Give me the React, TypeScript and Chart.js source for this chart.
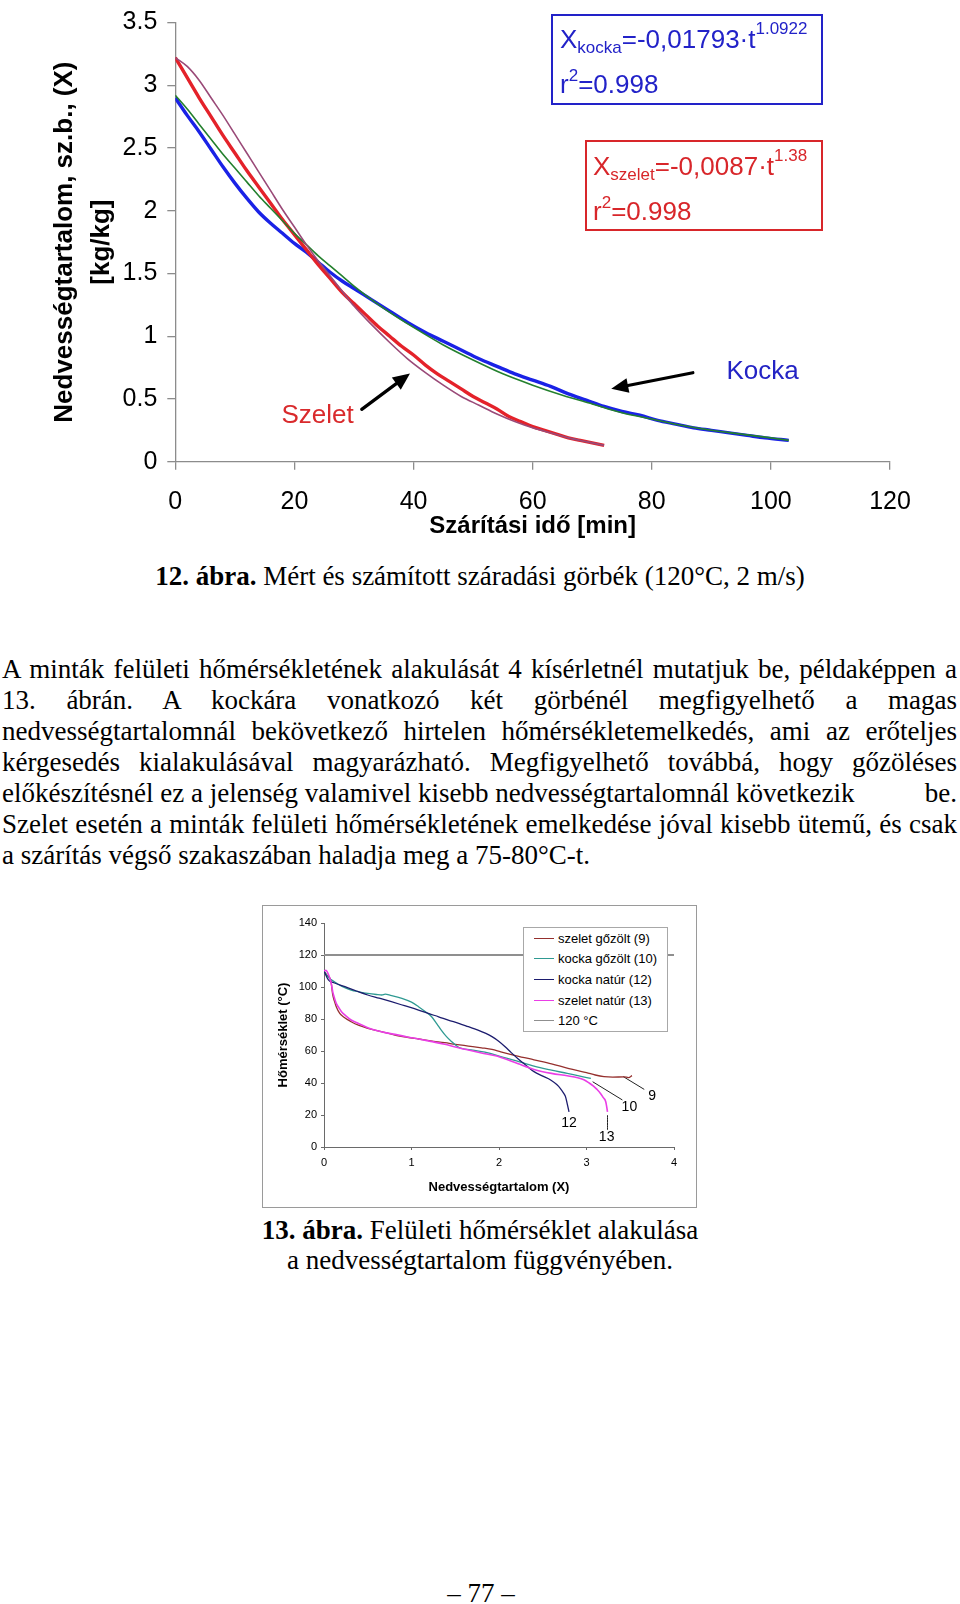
import React, { useEffect, useRef } from 'react';
import { Chart, registerables } from 'chart.js';

Chart.register(...registerables);

const SANS = '"Liberation Sans", Arial, sans-serif';
const SERIF = '"Liberation Serif", "Times New Roman", serif';

// ---------------- 12. ábra: drying curves ----------------
const fig12XTicks = ['0', '20', '40', '60', '80', '100', '120'];
const fig12YTicks = ['0', '0.5', '1', '1.5', '2', '2.5', '3', '3.5'];

const szeletMertT = [0, 2, 4, 6, 8, 10, 12, 14, 16, 18, 20, 22, 24, 26, 28, 30, 32, 34, 36, 38, 40, 42, 44, 46, 48, 50, 52, 54, 56, 58, 60, 62, 64, 66, 68, 70, 72];
const szeletMertX = [3.22, 3.06, 2.90, 2.75, 2.60, 2.46, 2.32, 2.19, 2.06, 1.93, 1.81, 1.69, 1.57, 1.46, 1.35, 1.26, 1.17, 1.08, 1.00, 0.92, 0.85, 0.77, 0.70, 0.64, 0.58, 0.52, 0.47, 0.42, 0.36, 0.32, 0.28, 0.25, 0.22, 0.19, 0.17, 0.15, 0.13];

const szeletSzamT = [0, 2, 4, 6, 8, 10, 12, 14, 16, 18, 20, 22, 24, 26, 28, 30, 33, 36, 39, 42, 45, 48, 51, 54, 57, 60, 63, 66, 69, 72];
const szeletSzamX = [3.22, 3.15, 3.04, 2.90, 2.76, 2.61, 2.46, 2.31, 2.16, 2.01, 1.87, 1.73, 1.60, 1.48, 1.36, 1.24, 1.09, 0.95, 0.82, 0.71, 0.61, 0.52, 0.45, 0.38, 0.32, 0.27, 0.23, 0.19, 0.16, 0.13];

const kockaMertT = [0, 2, 4, 6, 8, 10, 12, 14, 16, 18, 20, 22, 24, 26, 28, 30, 33, 36, 39, 42, 45, 48, 51, 54, 57, 60, 63, 66, 69, 72, 75, 78, 81, 84, 87, 90, 93, 96, 99, 103];
const kockaMertX = [2.90, 2.76, 2.63, 2.49, 2.35, 2.22, 2.10, 1.99, 1.90, 1.82, 1.74, 1.67, 1.59, 1.51, 1.44, 1.38, 1.29, 1.20, 1.11, 1.03, 0.96, 0.89, 0.82, 0.76, 0.70, 0.65, 0.60, 0.54, 0.49, 0.44, 0.40, 0.37, 0.33, 0.30, 0.27, 0.25, 0.23, 0.21, 0.19, 0.17];

const kockaSzamT = [0, 2, 4, 6, 8, 10, 12, 14, 16, 18, 20, 22, 24, 26, 28, 30, 33, 36, 40, 45, 50, 55, 60, 65, 70, 75, 80, 85, 90, 95, 100, 103];
const kockaSzamX = [2.92, 2.81, 2.69, 2.57, 2.45, 2.34, 2.23, 2.12, 2.02, 1.92, 1.82, 1.73, 1.64, 1.56, 1.48, 1.40, 1.29, 1.19, 1.07, 0.93, 0.81, 0.70, 0.61, 0.53, 0.46, 0.39, 0.34, 0.29, 0.25, 0.22, 0.19, 0.17];

// annotation anchors (data units: t [min], X [kg/kg])
const fig12LabelText = ['Szelet', 'Kocka'];
const fig12LabelT = [23.9, 98.6];
const fig12LabelX = [0.365, 0.716];
const fig12ArrowFromT = [31.3, 86.9];
const fig12ArrowFromX = [0.417, 0.709];
const fig12ArrowToT = [39.4, 73.2];
const fig12ArrowToX = [0.703, 0.581];

// ---------------- 13. ábra: surface temperature ----------------
const fig13XTicks = ['0', '1', '2', '3', '4'];
const fig13YTicks = ['0', '20', '40', '60', '80', '100', '120', '140'];

const szeletGozoltX = [0, 0.04, 0.077, 0.10, 0.12, 0.14, 0.18, 0.22, 0.31, 0.40, 0.50, 0.58, 0.70, 0.81, 0.95, 1.08, 1.22, 1.38, 1.50, 1.65, 1.80, 1.92, 2.02, 2.2, 2.4, 2.6, 2.8, 3.0, 3.1, 3.2, 3.3, 3.43, 3.48, 3.52];
const szeletGozoltT = [110, 107, 104.4, 95, 91, 87.7, 83.5, 81.4, 78.3, 76, 74.2, 73.1, 71.5, 70, 68.6, 67.5, 66.3, 65.2, 64.2, 63.1, 62, 61, 59.5, 57, 54.5, 52, 49, 46.5, 45, 44, 43.7, 43.8, 43.4, 44.6];

const kockaGozoltX = [0, 0.05, 0.12, 0.20, 0.31, 0.40, 0.50, 0.60, 0.66, 0.70, 0.76, 0.89, 1.00, 1.08, 1.16, 1.23, 1.29, 1.34, 1.40, 1.46, 1.52, 1.57, 1.70, 1.84, 2.02, 2.2, 2.4, 2.6, 2.78, 2.95, 3.05];
const kockaGozoltT = [110, 106, 103.3, 100.5, 98.1, 97, 96, 95.3, 95, 95.5, 94.8, 92.9, 90.5, 87.7, 84.5, 81.4, 77, 73.1, 69, 65.8, 63, 61.7, 60.5, 59.3, 56.5, 53.8, 50.5, 48, 46, 44, 42.9];

const kockaNaturX = [0, 0.05, 0.12, 0.24, 0.37, 0.50, 0.63, 0.77, 0.92, 1.08, 1.20, 1.31, 1.42, 1.54, 1.65, 1.76, 1.85, 1.92, 2.0, 2.07, 2.14, 2.22, 2.31, 2.40, 2.50, 2.59, 2.66, 2.70, 2.74, 2.76, 2.78, 2.80];
const kockaNaturT = [110, 104.4, 102.5, 100.2, 97.5, 95, 93, 90.8, 88.3, 85.6, 83.3, 81.4, 79.3, 77.3, 75.2, 73.1, 71, 69, 66, 62.7, 59, 55, 51, 47.1, 44.3, 41.9, 39, 36.7, 33.5, 31.5, 27, 22];

const szeletNaturX = [0, 0.02, 0.05, 0.08, 0.10, 0.12, 0.14, 0.17, 0.20, 0.25, 0.31, 0.40, 0.50, 0.60, 0.70, 0.81, 0.95, 1.08, 1.22, 1.38, 1.50, 1.65, 1.80, 1.96, 2.1, 2.22, 2.4, 2.6, 2.78, 2.9, 2.97, 3.03, 3.08, 3.12, 3.16, 3.19, 3.22, 3.24];
const szeletNaturT = [110, 110.5, 108, 103, 97, 93, 89.8, 87, 84.6, 82, 79.4, 77, 74.6, 72.8, 71.5, 70.4, 68.8, 67.5, 66, 64.2, 62.5, 60.6, 58.8, 57, 54.5, 52, 48.5, 46, 44.5, 43.3, 42, 40, 38.1, 36, 33.5, 31, 28.3, 22];

const ref120X = [0, 4];
const ref120T = [120, 120];

const fig13Series = ['szelet gőzölt (9)', 'kocka gőzölt (10)', 'kocka natúr (12)', 'szelet natúr (13)', '120 °C'];
const fig13Colors = ['#95302e', '#2f9a92', '#1c1c6e', '#ea3ee6', '#8f8f8f'];

const leader9X = [3.42, 3.66];
const leader9T = [44, 36];
const leader10X = [3.07, 3.41];
const leader10T = [40.8, 29.4];
const leader13X = [3.24, 3.24];
const leader13T = [20, 10.6];
const curveLabelText = ['9', '10', '12', '13'];
const curveLabelX = [3.75, 3.49, 2.80, 3.23];
const curveLabelT = [31.9, 25.2, 14.8, 6.4];

const paragraphLines = [
  'A minták felületi hőmérsékletének alakulását 4 kísérletnél mutatjuk be, példaképpen a',
  '13. ábrán. A kockára vonatkozó két görbénél megfigyelhető a magas',
  'nedvességtartalomnál bekövetkező hirtelen hőmérsékletemelkedés, ami az erőteljes',
  'kérgesedés kialakulásával magyarázható. Megfigyelhető továbbá, hogy gőzöléses',
  'előkészítésnél ez a jelenség valamivel kisebb nedvességtartalomnál következik',
  'Szelet esetén a minták felületi hőmérsékletének emelkedése jóval kisebb ütemű, és csak',
  'a szárítás végső szakaszában haladja meg a 75-80°C-t.',
];

function pts(xs: number[], ys: number[]) {
  return xs.map((x, i) => ({ x, y: ys[i] }));
}

function drawArrow(ctx: CanvasRenderingContext2D, x0: number, y0: number, x1: number, y1: number) {
  const ang = Math.atan2(y1 - y0, x1 - x0);
  const head = 17;
  const half = 7.5;
  const bx = x1 - head * Math.cos(ang);
  const by = y1 - head * Math.sin(ang);
  ctx.strokeStyle = '#000';
  ctx.fillStyle = '#000';
  ctx.lineWidth = 3.2;
  ctx.lineCap = 'round';
  ctx.beginPath();
  ctx.moveTo(x0, y0);
  ctx.lineTo(bx, by);
  ctx.stroke();
  ctx.beginPath();
  ctx.moveTo(x1, y1);
  ctx.lineTo(bx + half * Math.sin(ang), by - half * Math.cos(ang));
  ctx.lineTo(bx - half * Math.sin(ang), by + half * Math.cos(ang));
  ctx.closePath();
  ctx.fill();
}

const fig12Notes = {
  id: 'fig12Notes',
  afterDatasetsDraw(chart: any) {
    const { ctx, scales } = chart;
    const xs = scales.x;
    const ys = scales.y;
    ctx.save();
    for (let i = 0; i < fig12ArrowFromT.length; i++) {
      drawArrow(
        ctx,
        xs.getPixelForValue(fig12ArrowFromT[i]),
        ys.getPixelForValue(fig12ArrowFromX[i]),
        xs.getPixelForValue(fig12ArrowToT[i]),
        ys.getPixelForValue(fig12ArrowToX[i])
      );
    }
    const colors = ['#d92a2c', '#2323c4'];
    ctx.font = `26px ${SANS}`;
    ctx.textAlign = 'center';
    ctx.textBaseline = 'middle';
    for (let i = 0; i < fig12LabelText.length; i++) {
      ctx.fillStyle = colors[i];
      ctx.fillText(fig12LabelText[i], xs.getPixelForValue(fig12LabelT[i]), ys.getPixelForValue(fig12LabelX[i]));
    }
    ctx.restore();
  },
};

const fig13Notes = {
  id: 'fig13Notes',
  afterDatasetsDraw(chart: any) {
    const { ctx, scales } = chart;
    ctx.save();
    ctx.font = `14px ${SANS}`;
    ctx.fillStyle = '#000';
    ctx.textAlign = 'center';
    ctx.textBaseline = 'middle';
    for (let i = 0; i < curveLabelText.length; i++) {
      ctx.fillText(curveLabelText[i], scales.x.getPixelForValue(curveLabelX[i]), scales.y.getPixelForValue(curveLabelT[i]));
    }
    ctx.restore();
  },
};

export default function App() {
  const topRef = useRef<HTMLCanvasElement>(null);
  const botRef = useRef<HTMLCanvasElement>(null);

  useEffect(() => {
    const axisGray = '#8c8c8c';
    const line = { showLine: true, pointRadius: 0, fill: false, cubicInterpolationMode: 'monotone' as const };

    const c1 = new Chart(topRef.current as HTMLCanvasElement, {
      type: 'scatter',
      data: {
        datasets: [
          { ...line, label: 'Szelet számított', data: pts(szeletSzamT, szeletSzamX), borderColor: '#9a4a78', borderWidth: 1.6, order: 0 },
          { ...line, label: 'Kocka számított', data: pts(kockaSzamT, kockaSzamX), borderColor: '#24802e', borderWidth: 1.6, order: 1 },
          { ...line, label: 'Szelet mért', data: pts(szeletMertT, szeletMertX), borderColor: '#e4222a', borderWidth: 3.4, order: 2 },
          { ...line, label: 'Kocka mért', data: pts(kockaMertT, kockaMertX), borderColor: '#1a22e6', borderWidth: 3.4, order: 3 },
        ],
      },
      options: {
        responsive: false,
        animation: false,
        devicePixelRatio: 1,
        layout: { padding: { top: 13.7, right: 70, bottom: 0, left: 0 } },
        plugins: { legend: { display: false }, tooltip: { enabled: false } },
        scales: {
          x: {
            type: 'linear',
            min: 0,
            max: 120,
            ticks: {
              stepSize: 20,
              autoSkip: false,
              maxRotation: 0,
              font: { family: SANS, size: 25, lineHeight: 1 },
              color: '#000',
              padding: 20,
              callback: (_v: any, i: number) => fig12XTicks[i],
            },
            grid: { drawOnChartArea: false, drawTicks: true, tickLength: 8, color: axisGray, lineWidth: 1.3 },
            border: { color: axisGray, width: 1.3 },
            title: {
              display: true,
              text: 'Szárítási idő [min]',
              font: { family: SANS, size: 24, weight: 'bold', lineHeight: 1.2 },
              color: '#000',
              padding: { top: 0, bottom: 4.6 },
            },
            afterFit: (s: any) => {
              s.height = 83.3;
            },
          },
          y: {
            type: 'linear',
            min: 0,
            max: 3.5,
            ticks: {
              stepSize: 0.5,
              autoSkip: false,
              font: { family: SANS, size: 25, lineHeight: 1 },
              color: '#000',
              padding: 10,
              callback: (_v: any, i: number) => fig12YTicks[i],
            },
            grid: { drawOnChartArea: false, drawTicks: true, tickLength: 8, color: axisGray, lineWidth: 1.3 },
            border: { color: axisGray, width: 1.3 },
            title: {
              display: true,
              text: ['Nedvességtartalom, sz.b., (X)', '[kg/kg]'],
              font: { family: SANS, size: 26, weight: 'bold', lineHeight: 1.42 },
              color: '#000',
              padding: { top: 46, bottom: 0 },
            },
            afterFit: (s: any) => {
              s.width = 175.3;
            },
          },
        },
      },
      plugins: [fig12Notes],
    } as any);

    const thin = { ...line, borderWidth: 1.3 };
    const c2 = new Chart(botRef.current as HTMLCanvasElement, {
      type: 'scatter',
      data: {
        datasets: [
          { ...thin, label: fig13Series[0], data: pts(szeletGozoltX, szeletGozoltT), borderColor: fig13Colors[0], order: 3 },
          { ...thin, label: fig13Series[1], data: pts(kockaGozoltX, kockaGozoltT), borderColor: fig13Colors[1], order: 2 },
          { ...thin, label: fig13Series[2], data: pts(kockaNaturX, kockaNaturT), borderColor: fig13Colors[2], order: 1 },
          { ...thin, label: fig13Series[3], data: pts(szeletNaturX, szeletNaturT), borderColor: fig13Colors[3], borderWidth: 1.6, order: 0 },
          { ...thin, label: fig13Series[4], data: pts(ref120X, ref120T), borderColor: fig13Colors[4], borderWidth: 2, order: 4 },
          { ...thin, label: 'l9', data: pts(leader9X, leader9T), borderColor: '#222', borderWidth: 1, order: 5 },
          { ...thin, label: 'l10', data: pts(leader10X, leader10T), borderColor: '#222', borderWidth: 1, order: 5 },
          { ...thin, label: 'l13', data: pts(leader13X, leader13T), borderColor: '#222', borderWidth: 1, order: 5 },
        ],
      },
      options: {
        responsive: false,
        animation: false,
        devicePixelRatio: 1,
        layout: { padding: { top: 18, right: 23, bottom: 0, left: 0 } },
        plugins: { legend: { display: false }, tooltip: { enabled: false } },
        scales: {
          x: {
            type: 'linear',
            min: 0,
            max: 4,
            ticks: {
              stepSize: 1,
              autoSkip: false,
              maxRotation: 0,
              font: { family: SANS, size: 11, lineHeight: 1 },
              color: '#000',
              padding: 7,
              callback: (_v: any, i: number) => fig13XTicks[i],
            },
            grid: { drawOnChartArea: false, drawTicks: true, tickLength: 3, color: '#6a6a6a', lineWidth: 1 },
            border: { color: '#6a6a6a', width: 1 },
            title: {
              display: true,
              text: 'Nedvességtartalom (X)',
              font: { family: SANS, size: 13, weight: 'bold', lineHeight: 1.2 },
              color: '#000',
              padding: { top: 0, bottom: 13.2 },
            },
            afterFit: (s: any) => {
              s.height = 61;
            },
          },
          y: {
            type: 'linear',
            min: 0,
            max: 140,
            ticks: {
              stepSize: 20,
              autoSkip: false,
              font: { family: SANS, size: 11, lineHeight: 1 },
              color: '#000',
              padding: 4,
              callback: (_v: any, i: number) => fig13YTicks[i],
            },
            grid: { drawOnChartArea: false, drawTicks: true, tickLength: 3, color: '#6a6a6a', lineWidth: 1 },
            border: { color: '#6a6a6a', width: 1 },
            title: {
              display: true,
              text: 'Hőmérséklet (°C)',
              font: { family: SANS, size: 13, weight: 'bold', lineHeight: 1.2 },
              color: '#000',
              padding: { top: 13.2, bottom: 0 },
            },
            afterFit: (s: any) => {
              s.width = 62;
            },
          },
        },
      },
      plugins: [fig13Notes],
    } as any);

    return () => {
      c1.destroy();
      c2.destroy();
    };
  }, []);

  const abs = (left: number, top: number, extra: any = {}) => ({ position: 'absolute' as const, left, top, ...extra });
  const serifLine = (baseline: number) => baseline - 22.6;
  const blue = '#2222c8';
  const red = '#d8262a';
  const eqFont = { fontFamily: SANS, fontSize: 26, lineHeight: '26px', whiteSpace: 'nowrap' as const };
  const small = (dy: number) => ({ fontSize: 17, position: 'relative' as const, top: dy });

  const legendY = [938.3, 958.3, 979, 1000, 1020];

  return (
    <div style={{ position: 'absolute', left: 0, top: 0, width: 960, height: 1604, overflow: 'hidden', background: '#fff', color: '#000' }}>
      <canvas ref={topRef} width={960} height={545} style={{ position: 'absolute', left: 0, top: 0, width: 960, height: 545 }} />

      {/* equation boxes */}
      <div style={abs(551, 14, { width: 272, height: 91, border: `2px solid ${blue}`, boxSizing: 'border-box' })} />
      <div style={abs(560, 48 - 22, { ...eqFont, color: blue })}>
        X<span style={small(5)}>kocka</span>=-0,01793·t<span style={small(-14)}>1.0922</span>
      </div>
      <div style={abs(560, 93 - 22, { ...eqFont, color: blue })}>
        r<span style={small(-12)}>2</span>=0.998
      </div>
      <div style={abs(585, 140, { width: 238, height: 91, border: `2px solid ${red}`, boxSizing: 'border-box' })} />
      <div style={abs(593, 175 - 22, { ...eqFont, color: red })}>
        X<span style={small(5)}>szelet</span>=-0,0087·t<span style={small(-14)}>1.38</span>
      </div>
      <div style={abs(593, 220 - 22, { ...eqFont, color: red })}>
        r<span style={small(-12)}>2</span>=0.998
      </div>

      {/* caption 12 */}
      <div style={abs(0, serifLine(586), { width: 960, textAlign: 'center', fontFamily: SERIF, fontSize: 27, lineHeight: '27px', whiteSpace: 'nowrap' })}>
        <b>12. ábra.</b> Mért és számított száradási görbék (120°C, 2 m/s)
      </div>

      {/* paragraph */}
      {paragraphLines.map((t, i) => {
        const baseline = 679 + 31 * i;
        const justify = i < paragraphLines.length - 1 && i !== 4;
        return (
          <div
            key={i}
            style={abs(2, serifLine(baseline), {
              width: 955,
              fontFamily: SERIF,
              fontSize: 27,
              lineHeight: '27px',
              whiteSpace: 'nowrap',
              textAlign: justify ? 'justify' : 'left',
              textAlignLast: justify ? 'justify' : 'left',
            })}
          >
            {t}
            {i === 4 ? <span style={{ position: 'absolute', right: 0, top: 0 }}>be.</span> : null}
          </div>
        );
      })}

      {/* figure 13 */}
      <canvas ref={botRef} width={435} height={303} style={{ position: 'absolute', left: 262, top: 905, width: 435, height: 303 }} />
      <div style={abs(262, 905, { width: 435, height: 303, border: '1.5px solid #9a9a9a', boxSizing: 'border-box' })} />
      <div style={abs(523, 927, { width: 145, height: 105, border: '1px solid #a8a8a8', boxSizing: 'border-box', background: '#fff' })} />
      {fig13Series.map((s, i) => (
        <div key={s} style={abs(534, legendY[i] - 8, { height: 16, display: 'flex', alignItems: 'center', fontFamily: SANS, fontSize: 13, whiteSpace: 'nowrap' })}>
          <span style={{ display: 'inline-block', width: 20, height: 0, borderTop: `${i === 4 ? 1 : 1.5}px solid ${fig13Colors[i]}`, marginRight: 4 }} />
          <span>{s}</span>
        </div>
      ))}

      {/* caption 13 */}
      <div style={abs(0, serifLine(1240), { width: 960, textAlign: 'center', fontFamily: SERIF, fontSize: 27, lineHeight: '27px', whiteSpace: 'nowrap' })}>
        <b>13. ábra.</b> Felületi hőmérséklet alakulása
      </div>
      <div style={abs(0, serifLine(1270), { width: 960, textAlign: 'center', fontFamily: SERIF, fontSize: 27, lineHeight: '27px', whiteSpace: 'nowrap' })}>
        a nedvességtartalom függvényében.
      </div>

      {/* page number */}
      <div style={abs(0, serifLine(1603), { width: 962, textAlign: 'center', fontFamily: SERIF, fontSize: 27, lineHeight: '27px', whiteSpace: 'nowrap' })}>
        – 77 –
      </div>
    </div>
  );
}
